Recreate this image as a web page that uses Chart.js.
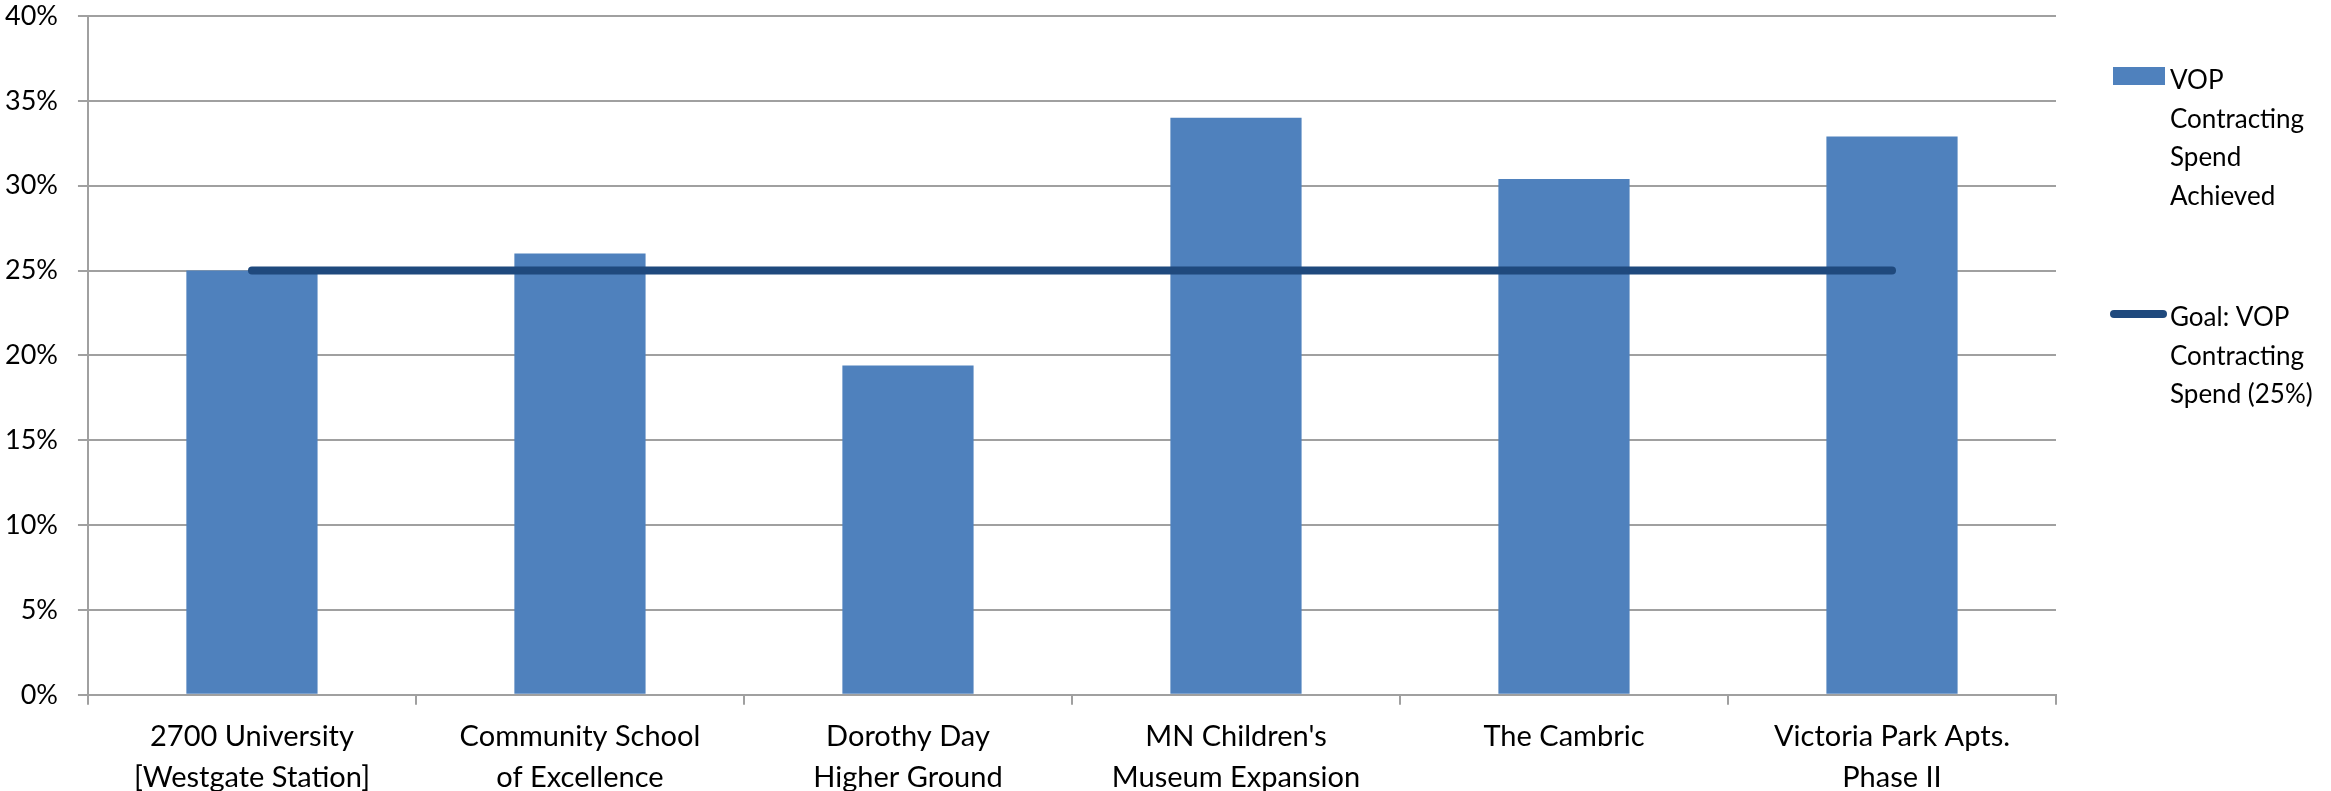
<!DOCTYPE html>
<html>
<head>
<meta charset="utf-8">
<script src="https://cdn.jsdelivr.net/npm/chart.js@4/dist/chart.umd.min.js"></script>
<style>
  html, body { margin: 0; padding: 0; background: #fff; }
  #wrap { width: 2331px; height: 791px; }
</style>
</head>
<body>
<div id="wrap"><canvas id="vopChart" width="2331" height="791"></canvas></div>
<script>
// chart data
const categories = [
    ["2700 University", "[Westgate Station]"],
    ["Community School", "of Excellence"],
    ["Dorothy Day", "Higher Ground"],
    ["MN Children's", "Museum Expansion"],
    ["The Cambric"],
    ["Victoria Park Apts.", "Phase II"],
];
const achieved = [25, 26, 19.4, 34, 30.4, 32.9];
const goal = [25, 25, 25, 25, 25, 25];
const yTicks = [0, 5, 10, 15, 20, 25, 30, 35, 40];

const barColor = "#4f81bd";
const goalColor = "#1f497d";
const gridColor = "#a0a0a0";
const fontFamily = "Lato, 'Liberation Sans', sans-serif";

// wrap a label into lines no wider than maxW
function wrapText(ctx, text, maxW) {
    const words = text.split(" ");
    const lines = [];
    let cur = "";
    words.forEach((w) => {
        const test = cur ? cur + " " + w : w;
        if (cur && ctx.measureText(test).width > maxW) {
            lines.push(cur);
            cur = w;
        } else {
            cur = test;
        }
    });
    if (cur) lines.push(cur);
    return lines;
}

// legend on the right, one entry per dataset, bar entry first
const sideLegend = {
    id: "sideLegend",
    afterDraw(chart) {
        const ctx = chart.ctx;
        const markX = 2111;
        const markW = 54;
        const textX = 2170;
        const lineH = 38.5;
        const firstY = 81;
        const itemStep = 237;
        ctx.save();
        ctx.font = "26px " + fontFamily;
        ctx.textBaseline = "middle";
        chart.data.datasets.forEach((ds, i) => {
            const y = firstY + i * itemStep;
            if (ds.type === "line") {
                ctx.strokeStyle = ds.borderColor;
                ctx.lineWidth = 8;
                ctx.lineCap = "round";
                ctx.beginPath();
                ctx.moveTo(markX + 3, y - 4);
                ctx.lineTo(markX + markW - 2, y - 4);
                ctx.stroke();
            } else {
                ctx.fillStyle = ds.backgroundColor;
                ctx.fillRect(markX + 2, y - 14, markW - 2, 18);
            }
            ctx.fillStyle = "#000";
            wrapText(ctx, ds.label, 180).forEach((line, j) => {
                ctx.fillText(line, textX, y + j * lineH);
            });
        });
        ctx.restore();
    },
};

new Chart(document.getElementById("vopChart").getContext("2d"), {
    type: "bar",
    data: {
        labels: categories,
        datasets: [
            {
                label: "VOP Contracting Spend Achieved",
                data: achieved,
                backgroundColor: barColor,
                borderWidth: 0,
                categoryPercentage: 1,
                barPercentage: 0.4,
                order: 1,
            },
            {
                type: "line",
                label: "Goal: VOP Contracting Spend (25%)",
                data: goal,
                borderColor: goalColor,
                backgroundColor: goalColor,
                borderWidth: 8,
                borderCapStyle: "round",
                pointRadius: 0,
                pointHoverRadius: 0,
                tension: 0,
                order: 0,
            },
        ],
    },
    options: {
        responsive: false,
        animation: false,
        devicePixelRatio: 1,
        layout: {
            padding: { left: -15, right: 275, top: 16, bottom: -19 },
        },
        plugins: {
            legend: { display: false },
            tooltip: { enabled: false },
        },
        scales: {
            x: {
                grid: {
                    display: true,
                    offset: true,
                    drawOnChartArea: false,
                    drawTicks: true,
                    tickLength: 10,
                    color: gridColor,
                    lineWidth: 2,
                },
                border: { display: true, color: gridColor, width: 2 },
                ticks: {
                    color: "#000",
                    padding: 12,
                    maxRotation: 0,
                    autoSkip: false,
                    font: { family: fontFamily, size: 29, lineHeight: 1.4 },
                },
            },
            y: {
                min: 0,
                max: 40,
                afterBuildTicks(axis) {
                    axis.ticks = yTicks.map((v) => ({ value: v }));
                },
                afterFit(axis) {
                    // tick padding should not push the plot top down
                    axis.paddingTop = 0;
                    axis.paddingBottom = 0;
                },
                grid: {
                    color: gridColor,
                    lineWidth: 2,
                    drawTicks: true,
                    tickLength: 10,
                },
                border: { display: true, color: gridColor, width: 2 },
                ticks: {
                    color: "#000",
                    padding: 20,
                    font: { family: fontFamily, size: 27 },
                    callback: function (value) {
                        return value + "%";
                    },
                },
            },
        },
    },
    plugins: [sideLegend],
});
</script>
</body>
</html>
